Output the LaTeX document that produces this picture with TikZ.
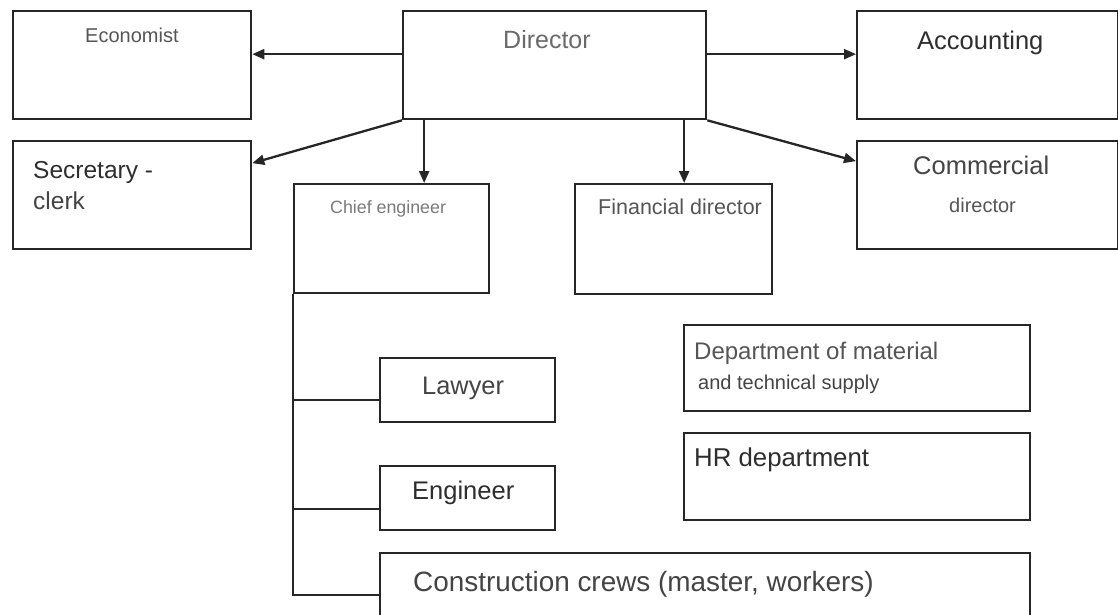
\documentclass[tikz,border=0pt]{standalone}
\usepackage{fontspec}
\setmainfont{Liberation Sans}
\usetikzlibrary{arrows.meta}
\definecolor{ink}{HTML}{262626}
\definecolor{gA}{HTML}{2E2E2E}
\definecolor{gB}{HTML}{444444}
\definecolor{gC}{HTML}{555555}
\definecolor{gD}{HTML}{6A6A6A}
\definecolor{gE}{HTML}{7A7A7A}
\begin{document}
\begin{tikzpicture}[x=1pt,y=-1pt,
  box/.style={draw=ink, line width=2.3pt, rectangle, inner sep=0pt, anchor=north west},
  link/.style={draw=ink, line width=2.3pt},
  arr/.style={link, -{Triangle[length=12pt,width=10pt]}},
  txt/.style={anchor=base west, inner sep=0pt},
  fs/.style={font=\fontsize{#1}{#1}\selectfont}]
\useasboundingbox (0,0) rectangle (1118,614);
\fill[white] (0,0) rectangle (1118,614);
\clip (0,0) rectangle (1118,614);

% boxes
\node[box, minimum width=238pt, minimum height=108pt] (econ) at (12,10) {};
\node[box, minimum width=303pt, minimum height=108pt] (dir) at (402,10) {};
\node[box, minimum width=261pt, minimum height=108pt] (acct) at (856,10) {};
\node[box, minimum width=238pt, minimum height=108pt] (sec) at (12,140) {};
\node[box, minimum width=261pt, minimum height=108pt] (comm) at (856,140) {};
\node[box, minimum width=195pt, minimum height=109pt] (chief) at (293,183) {};
\node[box, minimum width=197pt, minimum height=110pt] (fin) at (574,183) {};
\node[box, minimum width=175pt, minimum height=64pt] (law) at (379,357) {};
\node[box, minimum width=175pt, minimum height=64pt] (eng) at (379,465) {};
\node[box, minimum width=650pt, minimum height=100pt] (cons) at (379,552) {};
\node[box, minimum width=346pt, minimum height=86pt] (dmts) at (683,324) {};
\node[box, minimum width=346pt, minimum height=87pt] (hr) at (683,432) {};

% labels
\node[txt, fs=20, text=gC] (tecon) at (85,42) {Economist};
\node[txt, fs=25, text=gD] (tdir) at (503,48) {Director};
\node[txt, fs=25.5, text=gA] (tacct) at (917,49) {Accounting};
\node[txt, fs=24.5, text=gA] (tsec1) at (33,178) {Secretary -};
\node[txt, fs=24.5, text=gB] (tsec2) at (33,209) {clerk};
\node[txt, fs=25.5, text=gB] (tcomm1) at (913,174) {Commercial};
\node[txt, fs=20, text=gC] (tcomm2) at (949,212) {director};
\node[txt, fs=17.8, text=gE] (tchief) at (330,213) {Chief engineer};
\node[txt, fs=21.5, text=gC] (tfin) at (598,214) {Financial director};
\node[txt, fs=25.4, text=gB] (tlaw) at (422,394) {Lawyer};
\node[txt, fs=25.5, text=gA] (teng) at (412,499) {Engineer};
\node[txt, fs=27.9, text=gB] (tcons) at (413,591) {Construction crews (master, workers)};
\node[txt, fs=24, text=gC] (tdm1) at (694,359) {Department of material};
\node[txt, fs=20, text=gB] (tdm2) at (698,389) {and technical supply};
\node[txt, fs=25.8, text=gA] (thr) at (694,466) {HR department};

% arrows from the director
\draw[arr] ([yshift=11pt]dir.west) -- ([yshift=11pt]econ.east);
\draw[arr] ([yshift=11pt]dir.east) -- ([yshift=11pt]acct.west);
\draw[arr] (dir.south west) -- ([yshift=32pt]sec.east);
\draw[arr] (dir.south east) -- ([yshift=34pt]comm.west);
\coordinate (chiefin) at ([xshift=32.5pt]chief.north);
\coordinate (finin) at ([xshift=10.5pt]fin.north);
\draw[arr] (chiefin |- dir.south) -- (chiefin);
\draw[arr] (finin |- dir.south) -- (finin);

% chief engineer's branch
\coordinate (lawj) at ([yshift=-10pt]law.west);
\coordinate (engj) at ([yshift=-11pt]eng.west);
\coordinate (consj) at ([yshift=-43pt]cons.north west);
\draw[link] (chief.south west) -- (chief.south west |- consj) -- (consj);
\draw[link] (chief.south west |- lawj) -- (lawj);
\draw[link] (chief.south west |- engj) -- (engj);
\end{tikzpicture}
\end{document}
